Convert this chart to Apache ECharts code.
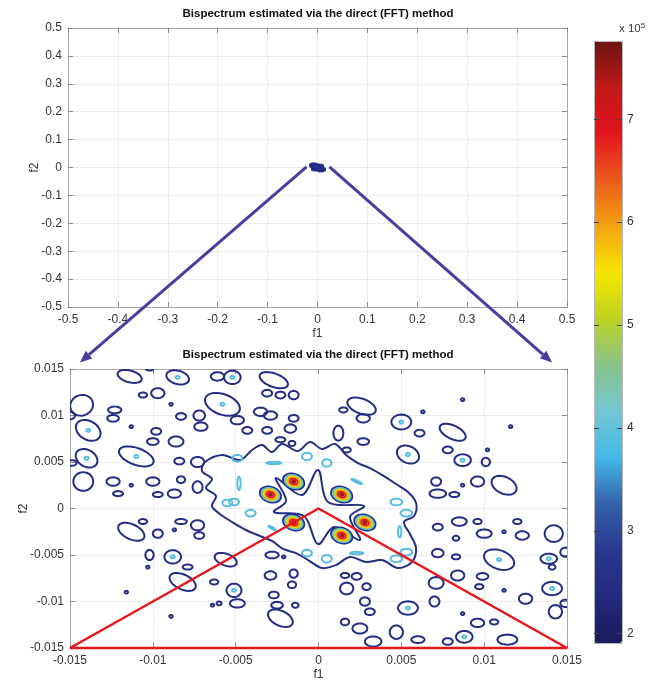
<!DOCTYPE html>
<html>
<head>
<meta charset="utf-8">
<title>Bispectrum estimated via the direct (FFT) method</title>
<script src="https://cdn.jsdelivr.net/npm/echarts@6/dist/echarts.min.js"></script>
<style>
  html, body { margin: 0; padding: 0; background: #fff; }
  #chart { width: 652px; height: 684px; }
</style>
</head>
<body>
<div id="chart"></div>
<script>
// colour scale, values in units of 1e5
const colorbarMin = 1.91;
const colorbarMax = 7.76;
const colorbarTicks = [2, 3, 4, 5, 6, 7];
const jet = ['#1a1b5c', '#232a7e', '#293890', '#3461a9', '#44b8e8', '#74c6d2', '#88c28c',
  '#bdd320', '#f7e600', '#f4a212', '#eb5a1c', '#e3151f', '#c01818', '#6b1411'];

// contour levels
const blueLevel = 2.5;
const cyanLevel = 3.9;
const peakLevels = [2.5, 3.9, 4.8, 5.5, 6.0, 6.8, 7.5];
const peakMax = 7.7;

// the six bispectrum peaks [f1, f2]
const peaks = [[-0.0015, 0.0029], [-0.0029, 0.0015], [0.0014, 0.0015],
  [0.0028, -0.0015], [0.0014, -0.0029], [-0.0015, -0.0015]];
const peakSize = [0.00066, 0.00081];
const peakTilt = -20;

// isolated contour islands [f1, f2, half-width, half-height, tilt, has cyan core]
const blobs = [
  [-0.0114, 0.0142, 0.00075, 0.00063, -15, 0], [-0.0102, 0.0151, 0.00025, 0.00027, 0, 0],
  [-0.0085, 0.0141, 0.0007, 0.00072, -15, 1], [-0.0097, 0.0124, 0.0004, 0.00054, 0, 0],
  [-0.0106, 0.0122, 0.00025, 0.00027, 0, 0], [-0.0061, 0.0142, 0.0004, 0.00045, 0, 0],
  [-0.0143, 0.0111, 0.0007, 0.0011, 20, 0], [-0.0150, 0.0100, 0.0003, 0.0004, 0, 0],
  [-0.0123, 0.0106, 0.0004, 0.00036, 0, 0], [-0.0124, 0.0097, 0.00035, 0.00036, 0, 0],
  [-0.0089, 0.0112, 0.0001, 0.00015, 0, 0], [-0.0083, 0.0099, 0.0003, 0.00036, 0, 0],
  [-0.0072, 0.0100, 0.00035, 0.00054, 0, 0], [-0.0071, 0.0088, 0.0004, 0.00045, 0, 0],
  [-0.0113, 0.0088, 0.0001, 0.00015, 0, 0], [-0.0139, 0.0084, 0.0008, 0.001, -30, 1],
  [-0.0098, 0.0083, 0.0003, 0.00036, 0, 0], [-0.0100, 0.0072, 0.00035, 0.00036, 0, 0],
  [-0.0086, 0.0072, 0.00045, 0.00054, 0, 0], [-0.0058, 0.0112, 0.0011, 0.0011, -20, 1],
  [-0.0140, 0.0054, 0.0007, 0.0009, -30, 1], [-0.0149, 0.0049, 0.0003, 0.0003, 0, 0],
  [-0.0110, 0.0056, 0.0011, 0.0009, -20, 1], [-0.0084, 0.0051, 0.0003, 0.00036, 0, 0],
  [-0.0073, 0.0050, 0.0004, 0.00054, 0, 0], [-0.0142, 0.0029, 0.0006, 0.001, 0, 0],
  [-0.0124, 0.0029, 0.0004, 0.00045, 0, 0], [-0.0121, 0.0016, 0.0003, 0.00027, 0, 0],
  [-0.0113, 0.0025, 0.0001, 0.00015, 0, 0], [-0.0100, 0.0029, 0.0004, 0.00045, 0, 0],
  [-0.0097, 0.0015, 0.0003, 0.00027, 0, 0], [-0.0087, 0.0016, 0.0004, 0.00045, 0, 0],
  [-0.0083, 0.0031, 0.00025, 0.00036, 0, 0], [-0.0073, 0.0023, 0.0003, 0.00063, 0, 0],
  [-0.0113, -0.0025, 0.00085, 0.0008, -25, 0], [-0.0106, -0.0014, 0.00025, 0.00027, 0, 0],
  [-0.0097, -0.0027, 0.0003, 0.00045, 0, 0], [-0.0083, -0.0014, 0.00035, 0.00027, 0, 0],
  [-0.0073, -0.0018, 0.0004, 0.00054, 0, 0], [-0.0072, -0.0029, 0.0003, 0.00036, 0, 0],
  [-0.0087, -0.0023, 0.0001, 0.00015, 0, 0], [-0.0102, -0.0050, 0.00025, 0.00054, 0, 0],
  [-0.0088, -0.0052, 0.0005, 0.00072, 0, 1], [-0.0079, -0.0063, 0.0003, 0.00027, 0, 0],
  [-0.0103, -0.0063, 0.0001, 0.00015, 0, 0], [-0.0082, -0.0079, 0.00085, 0.0008, -25, 0],
  [-0.0063, -0.0079, 0.00025, 0.00027, 0, 0], [-0.0116, -0.0090, 0.0001, 0.00015, 0, 0],
  [-0.0064, -0.0104, 0.0001, 0.00015, 0, 0], [-0.0089, -0.0116, 0.0001, 0.00015, 0, 0],
  [-0.0056, -0.0055, 0.0007, 0.00063, -20, 0], [-0.0051, -0.0088, 0.00045, 0.00072, 0, 1],
  [-0.0060, -0.0102, 0.00015, 0.0002, 0, 0], [-0.0049, -0.0102, 0.00045, 0.00045, 0, 0],
  [-0.0027, 0.0138, 0.0009, 0.00072, -20, 0], [-0.0052, 0.0141, 0.0005, 0.00072, 0, 1],
  [-0.0015, 0.0122, 0.0003, 0.00045, 0, 0], [-0.0031, 0.0124, 0.0003, 0.00036, 0, 0],
  [-0.0029, 0.0100, 0.0004, 0.00045, 0, 0], [-0.0015, 0.0097, 0.0003, 0.00036, 0, 0],
  [-0.0017, 0.0086, 0.00035, 0.00045, 0, 0], [0.0026, 0.0110, 0.0009, 0.0008, -20, 0],
  [0.0015, 0.0106, 0.00025, 0.00027, 0, 0], [0.0027, 0.0097, 0.0004, 0.00045, 0, 0],
  [0.0012, 0.0081, 0.0003, 0.0008, 0, 0], [0.0027, 0.0072, 0.00035, 0.00036, 0, 0],
  [0.0050, 0.0093, 0.0006, 0.0008, 0, 1], [-0.0023, 0.0074, 0.0003, 0.00027, 0, 0],
  [-0.0016, 0.0070, 0.0002, 0.00027, 0, 0], [0.0017, 0.0063, 0.00025, 0.00027, 0, 0],
  [-0.0035, 0.0104, 0.0004, 0.00045, 0, 0], [-0.0023, 0.0122, 0.0003, 0.00036, 0, 0],
  [-0.0031, 0.0084, 0.0003, 0.00036, 0, 0], [-0.0043, 0.0084, 0.0003, 0.00036, 0, 0],
  [-0.0049, 0.0095, 0.0004, 0.00045, 0, 0], [0.0061, 0.0081, 0.0003, 0.00036, 0, 0],
  [0.0081, 0.0082, 0.00085, 0.00072, -25, 0], [0.0087, 0.0117, 0.0001, 0.00015, 0, 0],
  [0.0063, 0.0104, 0.0001, 0.00015, 0, 0], [0.0116, 0.0088, 0.0001, 0.00015, 0, 0],
  [0.0054, 0.0058, 0.0007, 0.0009, -25, 1], [0.0078, 0.0063, 0.0003, 0.00036, 0, 0],
  [0.0087, 0.0052, 0.0005, 0.00063, 0, 1], [0.0101, 0.0050, 0.00025, 0.00045, 0, 0],
  [0.0102, 0.0063, 0.0001, 0.00015, 0, 0], [0.0071, 0.0029, 0.0003, 0.00045, 0, 0],
  [0.0096, 0.0029, 0.0004, 0.00054, 0, 0], [0.0112, 0.0025, 0.0008, 0.0009, -25, 0],
  [0.0072, 0.0016, 0.0005, 0.00045, 0, 0], [0.0082, 0.0015, 0.0003, 0.00027, 0, 0],
  [0.0087, 0.0025, 0.0001, 0.00015, 0, 0], [0.0085, -0.0014, 0.00045, 0.00045, 0, 0],
  [0.0096, -0.0014, 0.00025, 0.00027, 0, 0], [0.0112, -0.0025, 0.0001, 0.00015, 0, 0],
  [0.0072, -0.0020, 0.0003, 0.00036, 0, 0], [0.0083, -0.0032, 0.0002, 0.00027, 0, 0],
  [0.0100, -0.0027, 0.00045, 0.00045, 0, 0], [0.0120, -0.0014, 0.00025, 0.00027, 0, 0],
  [0.0123, -0.0029, 0.0004, 0.00045, 0, 0], [0.0142, -0.0027, 0.00055, 0.0009, 0, 0],
  [0.0149, -0.0047, 0.0003, 0.0005, 0, 0], [0.0072, -0.0048, 0.00035, 0.00045, 0, 0],
  [0.0083, -0.0052, 0.00025, 0.00027, 0, 0], [0.0109, -0.0055, 0.00095, 0.001, -20, 1],
  [0.0139, -0.0054, 0.0005, 0.00054, 0, 1], [0.0141, -0.0063, 0.0002, 0.00027, 0, 0],
  [0.0084, -0.0072, 0.0004, 0.00054, 0, 0], [0.0099, -0.0073, 0.00035, 0.00036, 0, 0],
  [0.0097, -0.0084, 0.00025, 0.00027, 0, 0], [0.0125, -0.0097, 0.0004, 0.00054, 0, 0],
  [0.0141, -0.0086, 0.0006, 0.00072, 0, 1], [0.0149, -0.0102, 0.0003, 0.0004, 0, 0],
  [0.0071, -0.0080, 0.00045, 0.00063, 0, 0], [0.0070, -0.0100, 0.0003, 0.00054, 0, 0],
  [0.0054, -0.0107, 0.0006, 0.00072, 0, 1], [0.0143, -0.0111, 0.0004, 0.00072, 0, 0],
  [0.0096, -0.0123, 0.0004, 0.00045, 0, 0], [0.0106, -0.0122, 0.00025, 0.00027, 0, 0],
  [0.0088, -0.0138, 0.0005, 0.00063, 0, 1], [0.0114, -0.0141, 0.0006, 0.00054, 0, 0],
  [0.0078, -0.0143, 0.0003, 0.00036, 0, 0], [0.0060, -0.0141, 0.0004, 0.00036, 0, 0],
  [0.0087, -0.0113, 0.0001, 0.00015, 0, 0], [0.0112, -0.0088, 0.0001, 0.00015, 0, 0],
  [-0.0028, -0.0050, 0.0004, 0.00036, 0, 0], [-0.0021, -0.0052, 0.0001, 0.00015, 0, 0],
  [-0.0029, -0.0072, 0.00035, 0.00045, 0, 0], [-0.0015, -0.0070, 0.00025, 0.00045, 0, 0],
  [-0.0016, -0.0082, 0.00025, 0.00036, 0, 0], [-0.0027, -0.0093, 0.0003, 0.00036, 0, 0],
  [-0.0025, -0.0104, 0.00035, 0.00036, 0, 0], [-0.0023, -0.0118, 0.0008, 0.0008, -25, 0],
  [-0.0014, -0.0104, 0.0002, 0.00027, 0, 0], [0.0016, -0.0072, 0.00025, 0.00027, 0, 0],
  [0.0023, -0.0073, 0.0003, 0.00036, 0, 0], [0.0017, -0.0086, 0.0004, 0.00063, 0, 0],
  [0.0029, -0.0084, 0.00025, 0.00036, 0, 0], [0.0028, -0.0100, 0.0003, 0.00045, 0, 0],
  [0.0031, -0.0111, 0.0003, 0.00036, 0, 0], [0.0016, -0.0122, 0.00025, 0.00036, 0, 0],
  [0.0025, -0.0129, 0.00045, 0.00054, 0, 0], [0.0033, -0.0143, 0.0005, 0.00054, 0, 0],
  [0.0047, -0.0133, 0.0004, 0.00072, 0, 0]
];

// small cyan contours inside the central cluster [f1, f2, half-width, half-height, tilt]
const cyanRings = [
  [-0.0027, 0.0049, 0.00045, 0.00012, 0], [-0.0007, 0.0056, 0.0003, 0.0004, 0],
  [0.0005, 0.0049, 0.00028, 0.0004, 0], [-0.0048, 0.0027, 0.0001, 0.0007, 0],
  [-0.0051, 0.0007, 0.0003, 0.00036, 0], [-0.0041, -0.0005, 0.0003, 0.00036, 0],
  [-0.0028, -0.0021, 0.00025, 0.0001, -30], [-0.0007, -0.0048, 0.0003, 0.00036, 0],
  [0.0005, -0.0054, 0.0003, 0.0004, 0], [0.0023, -0.0048, 0.0004, 0.00012, 0],
  [0.0047, 0.0007, 0.00035, 0.00036, 0], [0.0053, -0.0005, 0.00035, 0.00036, 0],
  [0.0049, -0.0025, 0.0001, 0.0006, 0], [0.0023, 0.0029, 0.00035, 0.0001, -25],
  [0.0047, -0.0054, 0.00035, 0.00036, 0], [0.0053, -0.0047, 0.00035, 0.00036, 0],
  [-0.0049, 0.0054, 0.0003, 0.00036, 0], [-0.0055, 0.0006, 0.0003, 0.00036, 0]
];

// outer and inner boundary of the central cluster contour [f1, f2]
const clusterOuter = [
  [-0.00685, 0.00500], [-0.00582, 0.00575], [-0.00473, 0.00521], [-0.00401, 0.00629],
  [-0.00341, 0.00683], [-0.00281, 0.00608], [-0.00220, 0.00694], [-0.00124, 0.00618],
  [-0.00051, 0.00715], [0.00021, 0.00640], [0.00100, 0.00694], [0.00166, 0.00575],
  [0.00238, 0.00489], [0.00310, 0.00435], [0.00395, 0.00349], [0.00468, 0.00263],
  [0.00540, 0.00177], [0.00589, 0.00059], [0.00577, -0.00081], [0.00516, -0.00145],
  [0.00552, -0.00274], [0.00589, -0.00425], [0.00564, -0.00575], [0.00480, -0.00640],
  [0.00383, -0.00554], [0.00287, -0.00575], [0.00190, -0.00521], [0.00106, -0.00608],
  [0.00021, -0.00640], [-0.00063, -0.00554], [-0.00136, -0.00479], [-0.00214, -0.00435],
  [-0.00281, -0.00349], [-0.00353, -0.00296], [-0.00438, -0.00231], [-0.00522, -0.00145],
  [-0.00595, -0.00059], [-0.00643, 0.00027], [-0.00619, 0.00134], [-0.00679, 0.00220],
  [-0.00643, 0.00317], [-0.00703, 0.00403]
];
const clusterInner = [
  [-0.00003, 0.00414], [0.00057, 0.00070], [0.00275, 0.00027], [0.00190, -0.00091],
  [0.00250, -0.00339], [0.00094, -0.00199], [-0.00003, -0.00382], [-0.00088, -0.00081],
  [-0.00269, -0.00038], [-0.00196, 0.00081], [-0.00257, 0.00328], [-0.00100, 0.00145]
];
const clusterRings = [clusterOuter, clusterInner];

// red triangle (principal region) on the zoomed plot
const triangleF1 = [-0.015, 0, 0.015, -0.015];
const triangleF2 = [-0.015, 0, -0.015, -0.015];

// zoom arrows: start on the full plot, end on the zoomed plot
const arrowFrom = [[-0.022, 0.002], [0.024, 0.002]];
const arrowTo = [[-0.0144, 0.0157], [0.0141, 0.0157]];

const titleText = 'Bispectrum estimated via the direct (FFT) method';
const font = 'Liberation Sans, Arial, Helvetica, sans-serif';

// item layout: [level, f1, f2, halfW, halfH, tilt, ringIndex]
function buildItems(full) {
  const items = [];
  clusterRings.forEach((ring, i) => items.push([blueLevel, ring[0][0], ring[0][1], 0, 0, 0, i]));
  blobs.forEach(b => items.push([blueLevel, b[0], b[1], b[2], b[3], b[4], -1]));
  if (!full) return items;
  blobs.filter(b => b[5]).forEach(b => items.push([cyanLevel, b[0], b[1], 0.00012, 0.00016, 0, -1]));
  cyanRings.forEach(c => items.push([cyanLevel, c[0], c[1], c[2], c[3], c[4], -1]));
  peaks.forEach(p => {
    peakLevels.forEach(lv => {
      const s = Math.pow((peakMax - lv) / (peakMax - peakLevels[0]), 0.6);
      items.push([lv, p[0], p[1], peakSize[0] * s, peakSize[1] * s, peakTilt, -1]);
    });
  });
  return items;
}

function contourRenderer(lineWidth) {
  return function (params, api) {
    const ring = api.value(6);
    let points;
    if (ring >= 0) {
      points = clusterRings[ring].map(p => api.coord(p));
    } else {
      const c = api.coord([api.value(1), api.value(2)]);
      const a = api.size([api.value(3), 0])[0];
      const b = api.size([0, api.value(4)])[1];
      const t = api.value(5) * Math.PI / 180;
      points = [];
      for (let k = 0; k < 36; k++) {
        const u = k / 36 * 2 * Math.PI;
        const dx = a * Math.cos(u), dy = b * Math.sin(u);
        points.push([c[0] + dx * Math.cos(t) - dy * Math.sin(t), c[1] - dx * Math.sin(t) - dy * Math.cos(t)]);
      }
    }
    return {
      type: 'polygon',
      shape: { points: points, smooth: ring >= 0 ? 0.35 : 0 },
      style: { fill: 'none', stroke: api.visual('color'), lineWidth: lineWidth }
    };
  };
}

function frame(gridIndex, min, max, interval, nameGapY) {
  const base = {
    gridIndex: gridIndex, type: 'value', min: min, max: max, interval: interval,
    axisLine: { show: true, onZero: false, lineStyle: { color: '#a8a8a8', width: 1 } },
    axisTick: { show: true, inside: true, length: 5, lineStyle: { color: '#888' } }
  };
  const labels = { color: '#333', fontSize: 12, fontFamily: font };
  const grid = { show: true, lineStyle: { color: '#ebebeb', width: 1 } };
  const nameStyle = { color: '#333', fontSize: 12, fontFamily: font };
  return {
    x: [
      Object.assign({}, base, { position: 'bottom', axisLabel: Object.assign({ margin: 7 }, labels),
        splitLine: grid, name: 'f1', nameLocation: 'middle', nameGap: 21, nameMoveOverlap: false,
        nameTextStyle: nameStyle }),
      Object.assign({}, base, { position: 'top', axisLabel: { show: false }, splitLine: { show: false } })
    ],
    y: [
      Object.assign({}, base, { position: 'left', axisLabel: Object.assign({ margin: 6 }, labels),
        splitLine: grid, name: 'f2', nameLocation: 'middle', nameGap: nameGapY, nameMoveOverlap: false,
        nameTextStyle: nameStyle }),
      Object.assign({}, base, { position: 'right', axisLabel: { show: false }, splitLine: { show: false } })
    ]
  };
}

const topFrame = frame(0, -0.5, 0.5, 0.1, 27);
const zoomFrame = frame(1, -0.015, 0.015, 0.005, 40);

const barEdge = { show: true, onZero: false, lineStyle: { color: '#b8b8b8' } };
const barTicks = { show: true, inside: true, length: 5, customValues: colorbarTicks, lineStyle: { color: '#444' } };

const chart = echarts.init(document.getElementById('chart'), null, { renderer: 'canvas' });

chart.setOption({
  animation: false,
  backgroundColor: '#fff',
  title: [
    { text: titleText, left: 318, top: 8, textAlign: 'center', padding: 0,
      textStyle: { fontSize: 11.5, fontWeight: 'bold', color: '#111', fontFamily: font } },
    { text: titleText, left: 318, top: 349, textAlign: 'center', padding: 0,
      textStyle: { fontSize: 11.5, fontWeight: 'bold', color: '#111', fontFamily: font } }
  ],
  grid: [
    { left: 68, top: 28, width: 499, height: 279, outerBoundsMode: 'none' },
    { left: 70, top: 369, width: 497, height: 279, outerBoundsMode: 'none' },
    { left: 594, top: 41, width: 28, height: 602, outerBoundsMode: 'none' }
  ],
  xAxis: topFrame.x.concat(zoomFrame.x, [
    { gridIndex: 2, type: 'value', min: 0, max: 1, axisLabel: { show: false }, axisTick: { show: false },
      splitLine: { show: false }, z: 10, axisLine: barEdge },
    { gridIndex: 2, type: 'value', position: 'top', min: 0, max: 1, axisLabel: { show: false }, axisTick: { show: false },
      splitLine: { show: false }, z: 10, axisLine: barEdge }
  ]),
  yAxis: topFrame.y.concat(zoomFrame.y, [
    { gridIndex: 2, type: 'value', position: 'right', min: colorbarMin, max: colorbarMax, z: 10,
      axisLine: barEdge, axisTick: barTicks,
      axisLabel: { customValues: colorbarTicks, color: '#333', fontSize: 12, fontFamily: font, margin: 5 },
      splitLine: { show: false },
      name: '{a|x 10}{b|5}', nameLocation: 'end', nameGap: 5, nameMoveOverlap: false,
      nameTextStyle: { align: 'left', padding: [0, 0, 0, -3],
        rich: { a: { fontSize: 11.5, color: '#333', fontFamily: font },
                b: { fontSize: 8, color: '#333', fontFamily: font, verticalAlign: 'top', padding: [0, 0, 6, 0] } } } },
    { gridIndex: 2, type: 'value', position: 'left', min: colorbarMin, max: colorbarMax, z: 10,
      axisLine: barEdge, axisTick: barTicks,
      axisLabel: { show: false }, splitLine: { show: false } }
  ]),
  visualMap: {
    type: 'continuous', min: colorbarMin, max: colorbarMax, dimension: 0, seriesIndex: [0, 1],
    inRange: { color: jet }, show: true, calculable: false, hoverLink: false, z: 1,
    itemWidth: 28, itemHeight: 602, left: 594, top: 41, padding: 0, text: null
  },
  series: [
    {
      type: 'custom', name: 'zoom', xAxisIndex: 2, yAxisIndex: 2, clip: true, silent: true,
      encode: { x: 1, y: 2 }, renderItem: contourRenderer(2), data: buildItems(true)
    },
    {
      type: 'custom', name: 'full', xAxisIndex: 0, yAxisIndex: 0, clip: true, silent: true,
      encode: { x: 1, y: 2 }, renderItem: contourRenderer(1.5), data: buildItems(false)
    },
    {
      type: 'line', name: 'region', xAxisIndex: 2, yAxisIndex: 2, clip: false, silent: true, z: 5,
      symbol: 'none', lineStyle: { color: '#e8161e', width: 2.5 },
      data: triangleF1.map((x, i) => [x, triangleF2[i]])
    }
  ]
});

// arrows linking the full plot to the zoomed plot
const arrowColor = '#4b3c9e';
const arrowGraphics = [];
arrowFrom.forEach((p, i) => {
  const a = chart.convertToPixel({ gridIndex: 0 }, p);
  const b = chart.convertToPixel({ gridIndex: 1 }, arrowTo[i]);
  const len = Math.hypot(b[0] - a[0], b[1] - a[1]);
  const ux = (b[0] - a[0]) / len, uy = (b[1] - a[1]) / len;
  const head = 12, half = 5;
  const base = [b[0] - ux * head, b[1] - uy * head];
  arrowGraphics.push({
    type: 'line', z: 100, silent: true,
    shape: { x1: a[0], y1: a[1], x2: base[0], y2: base[1] },
    style: { stroke: arrowColor, lineWidth: 3 }
  });
  arrowGraphics.push({
    type: 'polygon', z: 100, silent: true,
    shape: { points: [b, [base[0] - uy * half, base[1] + ux * half], [base[0] + uy * half, base[1] - ux * half]] },
    style: { fill: arrowColor }
  });
});
chart.setOption({ graphic: arrowGraphics });
</script>
</body>
</html>
